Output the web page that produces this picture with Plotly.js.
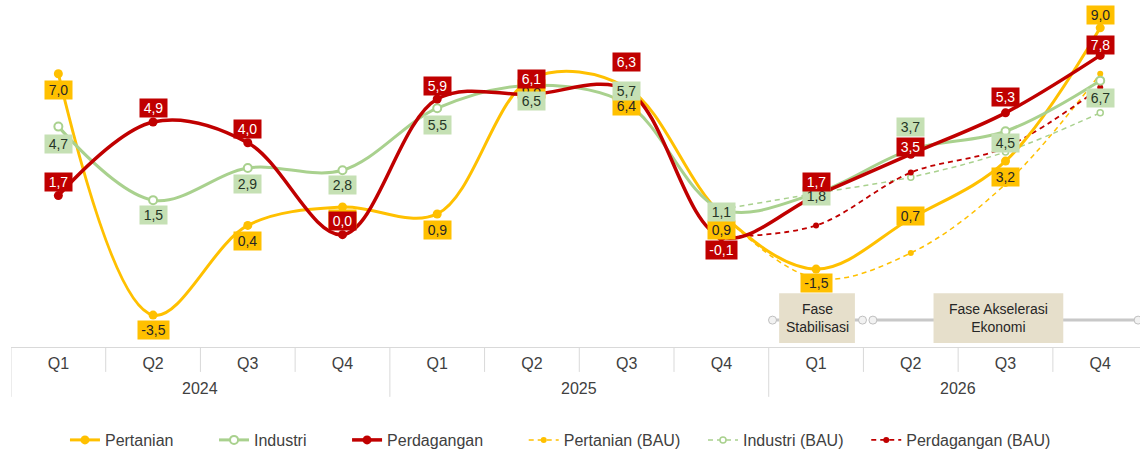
<!DOCTYPE html>
<html>
<head>
<meta charset="utf-8">
<script src="https://cdn.plot.ly/plotly-3.0.1.min.js"></script>
<style>
  html, body { margin: 0; padding: 0; background: #ffffff; }
  #chart { width: 1140px; height: 457px; }
</style>
</head>
<body>
<div id="chart"></div>
<script>
// ---- data ----
const quarters = ['Q1','Q2','Q3','Q4','Q1','Q2','Q3','Q4','Q1','Q2','Q3','Q4'];
const years = ['2024','2025','2026'];
const pertanian   = [7.0, -3.5, 0.4, 1.2, 0.9, 6.8, 6.4, 0.9, -1.5, 0.7, 3.2, 9.0];
const industri    = [4.7, 1.5, 2.9, 2.8, 5.5, 6.5, 5.7, 1.1, 1.8, 3.7, 4.5, 6.7];
const perdagangan = [1.7, 4.9, 4.0, 0.0, 5.9, 6.1, 6.3, -0.1, 1.7, 3.5, 5.3, 7.8];
// BAU scenarios start at 2025 Q4
const bauStart = 7;
const pertanianBAU   = [0.9, -1.9, -0.8, 2.2, 7.0];
const industriBAU    = [1.1, 1.8, 2.5, 3.6, 5.3];
const perdaganganBAU = [-0.1, 0.4, 2.7, 3.8, 6.4];
const seriesNames = ['Pertanian', 'Industri', 'Perdagangan', 'Pertanian (BAU)', 'Industri (BAU)', 'Perdagangan (BAU)'];
const phases = ['Fase<br>Stabilisasi', 'Fase Akselerasi<br>Ekonomi'];

// ---- label offsets (px, positive = below point) ----
const shiftPert = [16, 15, 16, 12, 16, 11, 18, 16, 14, -3, 16, -13];
const shiftInd  = [17, 15, 16, 15, 17, 16, -13, 3, 3, -23, 12, 17];
const shiftPerd = [-14, -14, -14, -14, -13, -15, -28, 13, -14, -7, -16, -10];
// extra legend spacing after each entry (number of no-break spaces)
const legendPad = [8, 8, 8, 4, 4, 0];

const C_YEL = '#FFC000', C_GRN = '#A9D18E', C_RED = '#C00000';
const FONT = 'Liberation Sans, Arial, sans-serif';

const xIdx = quarters.map((_, i) => i);
const xBau = pertanianBAU.map((_, i) => bauStart + i);
const lname = i => seriesNames[i] + '\u00A0'.repeat(legendPad[i]);

const traces = [
  { x: xBau, y: pertanianBAU, name: lname(3), mode: 'lines+markers', legendrank: 4,
    line: { color: C_YEL, width: 1.5, dash: '5px,4px', shape: 'spline', smoothing: 1 },
    marker: { color: C_YEL, size: 6 } },
  { x: xBau, y: industriBAU, name: lname(4), mode: 'lines+markers', legendrank: 5,
    line: { color: C_GRN, width: 1.5, dash: '5px,4px', shape: 'spline', smoothing: 1 },
    marker: { color: '#ffffff', size: 6, line: { color: C_GRN, width: 1.5 } } },
  { x: xBau, y: perdaganganBAU, name: lname(5), mode: 'lines+markers', legendrank: 6,
    line: { color: C_RED, width: 1.8, dash: '5px,4px', shape: 'spline', smoothing: 1 },
    marker: { color: C_RED, size: 6 } },
  { x: xIdx, y: pertanian, name: lname(0), mode: 'lines+markers', legendrank: 1,
    line: { color: C_YEL, width: 3, shape: 'spline', smoothing: 1 },
    marker: { color: C_YEL, size: 9 } },
  { x: xIdx, y: industri, name: lname(1), mode: 'lines+markers', legendrank: 2,
    line: { color: C_GRN, width: 3, shape: 'spline', smoothing: 1 },
    marker: { color: '#ffffff', size: 8, line: { color: C_GRN, width: 2 } } },
  { x: xIdx, y: perdagangan, name: lname(2), mode: 'lines+markers', legendrank: 3,
    line: { color: C_RED, width: 3.5, shape: 'spline', smoothing: 1 },
    marker: { color: C_RED, size: 9 } }
];

function fmt(v) { return v.toFixed(1).replace('.', ','); }
function boxW(t) {
  let w = 0;
  for (const ch of t) w += (ch === ',') ? 3.9 : (ch === '-') ? 4.7 : 7.8;
  return Math.round(w + 7);
}

const annotations = [];
function addLabels(vals, shifts, bg, fg) {
  vals.forEach((v, i) => {
    const t = fmt(v);
    annotations.push({
      x: i, y: v, xref: 'x', yref: 'y', text: t, showarrow: false,
      yshift: -shifts[i], bgcolor: bg, borderpad: 0, width: boxW(t), height: 18,
      font: { family: FONT, size: 14, color: fg }
    });
  });
}
addLabels(pertanian, shiftPert, C_YEL, '#262626');
addLabels(industri, shiftInd, '#C5E0B4', '#263526');
addLabels(perdagangan, shiftPerd, C_RED, '#ffffff');

// year labels
const PLOT_H = 348;
years.forEach((yr, k) => {
  annotations.push({
    x: k * 4 + 1.5, y: -42 / PLOT_H, xref: 'x', yref: 'paper', yanchor: 'middle',
    text: yr, showarrow: false, font: { family: FONT, size: 16, color: '#404040' }
  });
});

// phase boxes (positions in axis units)
const phaseBoxes = [
  { x0: 7.61, x1: 8.41 },
  { x0: 9.24, x1: 10.61 }
];
const boxY0 = -4.72, boxY1 = -2.55, lineY = -3.72;
phaseBoxes.forEach((b, k) => {
  annotations.push({
    x: (b.x0 + b.x1) / 2, y: (boxY0 + boxY1) / 2, xref: 'x', yref: 'y',
    text: phases[k], showarrow: false,
    font: { family: FONT, size: 14, color: '#262626' }
  });
});

const shapes = [];
// separators
for (let i = 0; i <= quarters.length; i++) {
  const isYear = (i % 4 === 0);
  shapes.push({
    type: 'line', xref: 'x', yref: 'paper', x0: i - 0.5, x1: i - 0.5,
    y0: 0, y1: -(isYear ? 50 : 25) / PLOT_H,
    line: { color: '#D9D9D9', width: 1 }
  });
}
// timeline segments
const segs = [[7.54, 8.49], [8.60, 11.40]];
segs.forEach(s => {
  shapes.push({ type: 'line', xref: 'x', yref: 'y', x0: s[0], x1: s[1], y0: lineY, y1: lineY,
    line: { color: '#C8C8C8', width: 3 } });
});
segs.forEach(s => {
  s.forEach(px => {
    shapes.push({ type: 'circle', xref: 'x', yref: 'y', xsizemode: 'pixel', ysizemode: 'pixel',
      xanchor: px, yanchor: lineY, x0: -4, x1: 4, y0: -4, y1: 4,
      fillcolor: '#F2F2F2', line: { color: '#C0C0C0', width: 1 } });
  });
});
phaseBoxes.forEach(b => {
  shapes.push({ type: 'rect', xref: 'x', yref: 'y', x0: b.x0, x1: b.x1, y0: boxY0, y1: boxY1,
    fillcolor: '#E6DFCB', line: { width: 0 } });
});

const layout = {
  width: 1140, height: 457,
  margin: { l: 11, r: 0, t: 0, b: 109, pad: 0 },
  paper_bgcolor: '#ffffff', plot_bgcolor: '#ffffff',
  font: { family: FONT, size: 16, color: '#404040' },
  showlegend: true,
  legend: {
    orientation: 'h', x: 0.0478, xanchor: 'left', y: -93 / PLOT_H, yanchor: 'middle',
    font: { family: FONT, size: 16, color: '#404040' }, traceorder: 'normal'
  },
  xaxis: {
    range: [-0.5, 11.42], tickmode: 'array', tickvals: xIdx, ticktext: quarters,
    ticks: '', showgrid: false, zeroline: false, showline: true,
    linecolor: '#D9D9D9', linewidth: 1, ticklabelstandoff: 2,
    tickfont: { family: FONT, size: 16, color: '#404040' }, fixedrange: true
  },
  yaxis: { range: [-4.89, 10.21], visible: false, showgrid: false, zeroline: false, fixedrange: true },
  annotations: annotations,
  shapes: shapes
};

Plotly.newPlot('chart', traces, layout, { displayModeBar: false, staticPlot: true });
</script>
</body>
</html>
